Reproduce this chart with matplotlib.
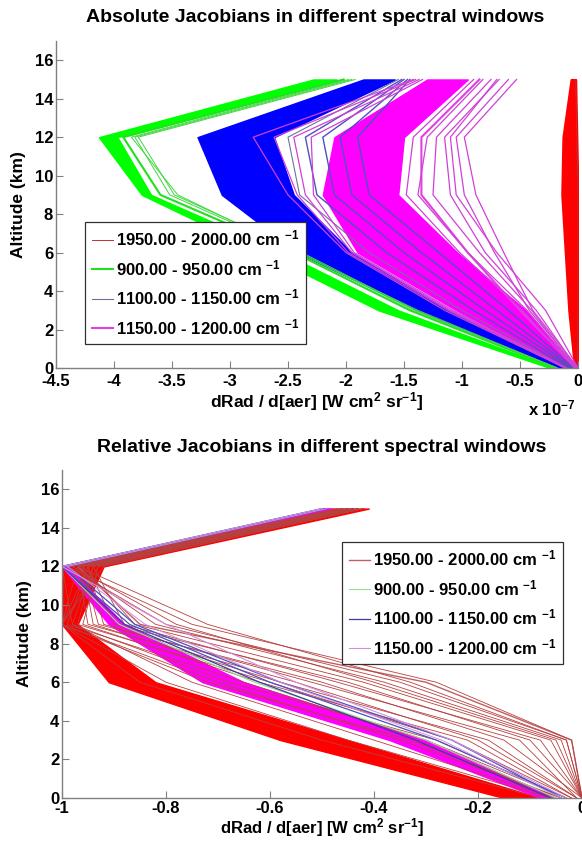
import matplotlib
matplotlib.use("Agg")
import matplotlib.pyplot as plt

plt.rcParams['font.family'] = ['Liberation Sans', 'DejaVu Sans']
plt.rcParams['font.weight'] = 'bold'
plt.rcParams['mathtext.fontset'] = 'custom'
plt.rcParams['mathtext.rm'] = 'Liberation Sans:bold'
plt.rcParams['mathtext.bf'] = 'Liberation Sans:bold'
plt.rcParams['mathtext.it'] = 'Liberation Sans:bold'
plt.rcParams['mathtext.default'] = 'rm'
plt.rcParams['axes.unicode_minus'] = False

# ---------------- data ----------------
altitude_km = [0, 3, 6, 9, 12, 15]
band_labels = ["1950.00 - 2000.00 cm $^{-1}$", "900.00 - 950.00 cm $^{-1}$",
               "1100.00 - 1150.00 cm $^{-1}$", "1150.00 - 1200.00 cm $^{-1}$"]

# Absolute Jacobians (units of 1e-7 W cm2 sr-1), values at altitude_km
abs_red_left = [-0.03, -0.08, -0.11, -0.14, -0.13, -0.06]
abs_red_right = [-0.005, 0.0, 0.0, 0.0, -0.01, -0.02]
abs_green_outer = [-0.24, -1.72, -2.72, -3.76, -4.13, -2.28]
abs_green_inner = [-0.20, -1.55, -2.55, -3.68, -3.97, -2.08]
abs_green_thin = [[-0.19, -1.45, -2.45, -3.60, -3.92, -2.02],
                  [-0.19, -1.42, -2.40, -3.52, -3.82, -1.95],
                  [-0.18, -1.40, -2.38, -3.48, -3.79, -1.92],
                  [-0.18, -1.38, -2.42, -3.45, -3.85, -1.98]]
abs_blue_outer = [-0.17, -1.38, -2.42, -3.07, -3.28, -1.85]
abs_blue_inner = [-0.12, -1.12, -1.95, -2.45, -2.62, -1.58]
abs_blue_thin = [[-0.10, -1.00, -1.80, -2.40, -2.50, -1.55],
                 [-0.08, -0.90, -1.65, -2.25, -2.35, -1.52],
                 [-0.06, -0.80, -1.50, -2.10, -2.20, -1.50],
                 [-0.05, -0.70, -1.35, -1.95, -2.05, -1.47],
                 [-0.04, -0.60, -1.20, -1.80, -1.90, -1.45]]
abs_magenta_outer = [-0.10, -1.05, -1.90, -2.20, -2.10, -1.30]
abs_magenta_inner = [-0.03, -0.45, -1.04, -1.55, -1.50, -0.95]
abs_magenta_thin = [[-0.02, -0.50, -0.95, -1.35, -1.35, -0.85],
                    [-0.11, -1.15, -2.00, -2.50, -2.80, -1.42],
                    [-0.11, -1.12, -1.98, -2.42, -2.62, -1.40],
                    [-0.10, -1.10, -1.95, -2.35, -2.45, -1.37],
                    [-0.10, -1.08, -1.93, -2.28, -2.30, -1.34],
                    [-0.03, -0.48, -1.02, -1.48, -1.42, -0.90],
                    [-0.02, -0.44, -0.95, -1.38, -1.30, -0.82],
                    [0.00, -0.39, -0.64, -0.88, -0.98, -0.53],
                    [-0.01, -0.42, -0.72, -0.98, -1.05, -0.60],
                    [-0.01, -0.36, -0.80, -1.10, -1.15, -0.68],
                    [-0.02, -0.40, -0.85, -1.25, -1.22, -0.75],
                    [0.00, -0.28, -0.70, -1.05, -1.10, -0.70]]

# Relative Jacobians (normalised), values at altitude_km
rel_red_outer = [-0.15, -0.58, -0.91, -1.00, -1.00, -0.50]
rel_red_inner = [-0.08, -0.45, -0.82, -0.97, -0.92, -0.41]
rel_red_thin = [[0.00, -0.02, -0.30, -0.85, -0.97, -0.45],
                [0.00, -0.02, -0.28, -0.75, -0.99, -0.46],
                [0.00, -0.03, -0.33, -0.72, -0.97, -0.45],
                [0.00, -0.03, -0.35, -0.80, -0.99, -0.47],
                [0.00, -0.04, -0.38, -0.82, -0.98, -0.46],
                [0.00, -0.05, -0.40, -0.78, -0.98, -0.46],
                [0.00, -0.06, -0.42, -0.86, -0.96, -0.44],
                [0.00, -0.08, -0.47, -0.88, -0.94, -0.43],
                [0.00, -0.10, -0.45, -0.90, -0.95, -0.43],
                [-0.01, -0.12, -0.52, -0.92, -0.95, -0.44],
                [0.00, -0.15, -0.50, -0.93, -0.96, -0.44],
                [-0.01, -0.18, -0.58, -0.94, -0.96, -0.45],
                [-0.01, -0.20, -0.55, -0.95, -0.97, -0.45],
                [-0.02, -0.22, -0.62, -0.96, -0.93, -0.42],
                [-0.02, -0.25, -0.60, -0.97, -0.94, -0.43],
                [-0.03, -0.28, -0.68, -0.98, -0.94, -0.43],
                [-0.03, -0.30, -0.65, -0.99, -0.95, -0.44],
                [-0.04, -0.33, -0.72, -1.00, -0.92, -0.42],
                [-0.04, -0.35, -0.70, -1.00, -0.93, -0.42],
                [-0.05, -0.40, -0.75, -0.98, -1.00, -0.46],
                [-0.06, -0.45, -0.80, -1.00, -0.95, -0.44],
                [-0.08, -0.50, -0.85, -1.00, -0.97, -0.45]]
rel_green_thin = [[-0.05, -0.30, -0.63, -0.89, -1.00, -0.50]]
rel_blue_thin = [[-0.06, -0.32, -0.62, -0.88, -1.00, -0.49],
                 [-0.04, -0.25, -0.58, -0.86, -0.99, -0.49],
                 [-0.03, -0.28, -0.60, -0.87, -1.00, -0.50]]
rel_magenta_outer = [-0.08, -0.37, -0.73, -0.91, -1.00, -0.50]
rel_magenta_inner = [-0.05, -0.30, -0.65, -0.88, -0.99, -0.48]
rel_magenta_thin = [[-0.03, -0.25, -0.55, -0.80, -1.00, -0.50],
                    [-0.04, -0.27, -0.58, -0.84, -0.99, -0.49]]

abs_xticks = [-4.5, -4, -3.5, -3, -2.5, -2, -1.5, -1, -0.5, 0]
rel_xticks = [-1, -0.8, -0.6, -0.4, -0.2, 0]
yticks = [0, 2, 4, 6, 8, 10, 12, 14, 16]

# ---------------- styles ----------------
C_RED = "#ff0000"
C_GRN, C_GRN_T = "#00ff00", "#40d840"
C_BLU, C_BLU_T = "#0000ff", "#5050c0"
C_MAG, C_MAG_T = "#ff00ff", "#d040d8"
GRAY = "#808080"

fig = plt.figure(figsize=(5.82, 8.41), dpi=100)
ax1 = fig.add_axes([56/582, 1-368/841, 522/582, 327/841])
ax2 = fig.add_axes([62/582, 1-798/841, 520/582, 328/841])


def band(ax, outer, inner, thin, c, ct, label, legend_color, legend_lw, lw=0.7):
    ax.plot(thin[0], altitude_km, color=legend_color, lw=legend_lw, label=label)
    ax.fill_betweenx(altitude_km, outer, inner, color=c, lw=1.0)
    for prof in thin[1:]:
        ax.plot(prof, altitude_km, color=ct, lw=lw)


# top: absolute
ax1.plot(abs_red_right, altitude_km, color="#c03030", lw=0.7, label=band_labels[0])
ax1.fill_betweenx(altitude_km, abs_red_left, abs_red_right, color=C_RED, lw=1.5)
band(ax1, abs_green_outer, abs_green_inner, abs_green_thin, C_GRN, C_GRN_T,
     band_labels[1], "#20e020", 1.5)
band(ax1, abs_blue_outer, abs_blue_inner, abs_blue_thin, C_BLU, C_BLU_T,
     band_labels[2], "#7070a0", 0.8, lw=1.0)
band(ax1, abs_magenta_outer, abs_magenta_inner, abs_magenta_thin, C_MAG, C_MAG_T,
     band_labels[3], "#e040e0", 1.5, lw=0.9)

# bottom: relative
band(ax2, rel_red_outer, rel_red_inner, rel_red_thin, C_RED, "#b84040",
     band_labels[0], "#c06060", 1.0, lw=0.6)
for i, prof in enumerate(rel_green_thin):
    ax2.plot(prof, altitude_km, color="#90e090", lw=0.8,
             label=band_labels[1] if i == 0 else None)
for i, prof in enumerate(rel_blue_thin):
    ax2.plot(prof, altitude_km, color="#3c3ca0" if i == 0 else C_BLU_T, lw=0.9,
             label=band_labels[2] if i == 0 else None)
band(ax2, rel_magenta_outer, rel_magenta_inner, rel_magenta_thin, C_MAG, "#d090e0",
     band_labels[3], "#d090e0", 0.8)

for ax, xt, xl in [(ax1, abs_xticks, (-4.5, 0)), (ax2, rel_xticks, (-1, 0))]:
    ax.set_xlim(*xl)
    ax.set_ylim(0, 17)
    ax.set_xticks(xt)
    ax.set_xticklabels(["%g" % v for v in xt])
    ax.set_yticks(yticks)
    ax.set_yticklabels(["%g" % v for v in yticks])
    for s in ["top", "right"]:
        ax.spines[s].set_visible(False)
    for s in ["left", "bottom"]:
        ax.spines[s].set_color(GRAY)
        ax.spines[s].set_linewidth(1.0)
    ax.tick_params(direction="in", length=5, width=0.8, color=GRAY,
                   labelsize=12, pad=2)
    ax.set_ylabel("Altitude (km)", fontsize=12.5, fontweight="bold", labelpad=6)

ax1.tick_params(axis="x", pad=4)
ax2.tick_params(axis="x", pad=2)
ax1.set_xlabel("dRad / d[aer] [W cm$^2$ sr$^{-1}$]", fontsize=12.5,
               fontweight="bold", labelpad=1)
ax2.set_xlabel("dRad / d[aer] [W cm$^2$ sr$^{-1}$]", fontsize=12,
               fontweight="bold", labelpad=0)

leg_kw = dict(fontsize=12, frameon=True, fancybox=False, borderaxespad=0,
              handlelength=1.3, handletextpad=0.15, labelspacing=0.58,
              borderpad=0.4, loc="upper left")
l1 = ax1.legend(bbox_to_anchor=((85-56)/522, (368-222)/327), **leg_kw)
l2 = ax2.legend(bbox_to_anchor=((342-62)/520, (798-542)/328), **leg_kw)
for lg in (l1, l2):
    lg.get_frame().set_edgecolor("#303030")
    lg.get_frame().set_linewidth(0.9)
    lg.get_frame().set_alpha(1)

fig.text(315/582, 1-18/841, "Absolute Jacobians in different spectral windows",
         ha="center", va="center", fontsize=14, fontweight="bold")
fig.text(322/582, 1-447/841, "Relative Jacobians in different spectral windows",
         ha="center", va="center", fontsize=14, fontweight="bold")
fig.text(552/582, 1-408/841, "x 10$^{-7}$", ha="center", va="center", fontsize=12)

fig.savefig("out.png", dpi=100)
